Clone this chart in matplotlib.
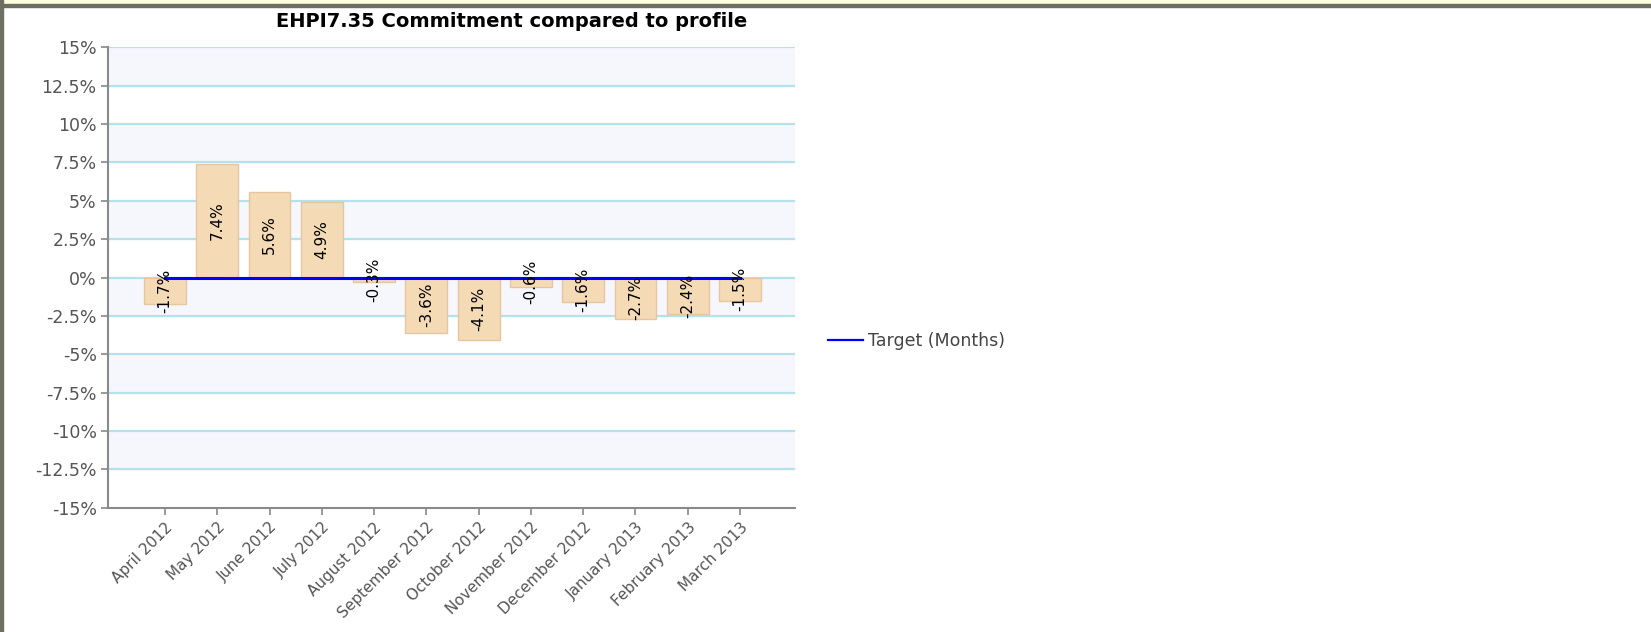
import matplotlib
matplotlib.use('Agg')
import matplotlib.pyplot as plt
import numpy as np
from matplotlib.ticker import FuncFormatter

# Data
months = ['April 2012', 'May 2012', 'June 2012', 'July 2012', 'August 2012',
          'September 2012', 'October 2012', 'November 2012', 'December 2012',
          'January 2013', 'February 2013', 'March 2013']
values = [-1.7, 7.4, 5.6, 4.9, -0.3, -3.6, -4.1, -0.6, -1.6, -2.7, -2.4, -1.5]
target = [0, 0, 0, 0, 0, 0, 0, 0, 0, 0, 0, 0]
yticks = [-15, -12.5, -10, -7.5, -5, -2.5, 0, 2.5, 5, 7.5, 10, 12.5, 15]

plt.rcParams['font.family'] = ['DejaVu Sans']

fig = plt.figure(figsize=(16.51, 6.32), dpi=100)
ax = fig.add_axes([0.0657, 0.1967, 0.4158, 0.7283])

x = np.arange(len(months))

# alternating background bands
for lo in [12.5, 7.5, 2.5, -2.5, -7.5, -12.5]:
    ax.axhspan(lo, lo + 2.5, color='#F6F7FC', zorder=0)
for yv in yticks[1:]:
    ax.axhline(yv, color='#B4E2EA', lw=1.6, zorder=1)

ax.bar(x, values, width=0.8, color='#F5DAB6', edgecolor='#E6C6A0', lw=1, zorder=2)
ax.plot(x, target, color='#0000FF', lw=2.2, zorder=3, label='Target (Months)')

# value labels, rotated, centred on each bar
for xi, v in zip(x, values):
    ax.text(xi, v / 2, f'{v}%', rotation=90, ha='center', va='center',
            fontsize=11, color='black', zorder=4)

ax.set_xlim(-1.08, 12.05)
ax.set_ylim(-15, 15)
ax.set_yticks(yticks)
ax.yaxis.set_major_formatter(FuncFormatter(lambda v, p: f'{v:g}%'))
ax.set_xticks(x)
ax.set_xticklabels(months, rotation=45, ha='right', rotation_mode='anchor')
ax.tick_params(axis='both', colors='#888888', labelcolor='#555555', labelsize=12.5,
               length=5, width=1.2)
ax.tick_params(axis='x', labelsize=11)

for s in ['top', 'right']:
    ax.spines[s].set_visible(False)
for s in ['left', 'bottom']:
    ax.spines[s].set_color('#8A8A8A')
    ax.spines[s].set_linewidth(1.5)

fig.text(0.310, 0.966, 'EHPI7.35 Commitment compared to profile',
         ha='center', va='center', fontsize=14, fontweight='bold')

fig.legend(loc='center left', bbox_to_anchor=(0.492, 0.46), frameon=False,
           fontsize=12.5, labelcolor='#444444', handlelength=2.0, handletextpad=0.3)
for ln in fig.legends[0].get_lines():
    ln.set_linewidth(1.6)

# page frame: yellow strip on top, dark border on the left
fig.patches.append(plt.Rectangle((0, 1 - 5 / 632), 1, 5 / 632, transform=fig.transFigure,
                                 color='#FFFFE0', zorder=0))
fig.patches.append(plt.Rectangle((0, 1 - 7 / 632), 1, 2.5 / 632, transform=fig.transFigure,
                                 color='#6E6E62', zorder=1))
fig.patches.append(plt.Rectangle((0, 0), 3 / 1651, 1, transform=fig.transFigure,
                                 color='#6E6E62', zorder=1))

fig.savefig('out.png', dpi=100)
